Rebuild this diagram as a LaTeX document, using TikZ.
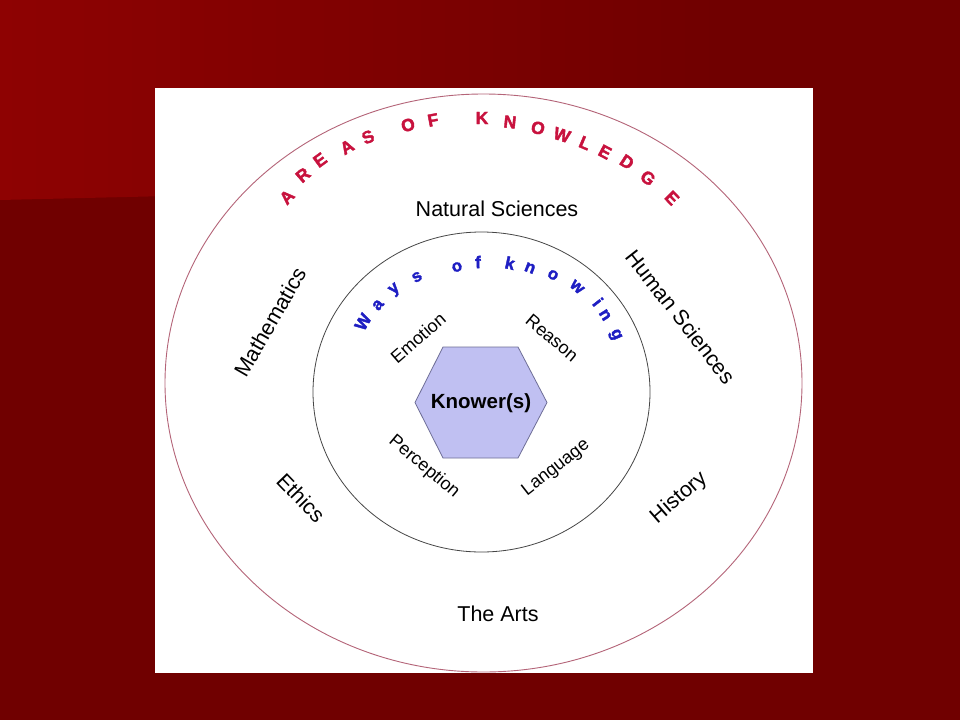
\documentclass[tikz,border=0pt]{standalone}
\usepackage{fontspec}
\setmainfont{Liberation Sans}
\newfontfamily\heavyfont[BoldFeatures={FakeBold=2.2}]{Liberation Sans}
\definecolor{bgdark}{RGB}{112,0,0}
\definecolor{bglight}{RGB}{142,2,2}
\definecolor{bgmid}{RGB}{132,0,0}
\definecolor{aokred}{RGB}{200,18,62}
\definecolor{wokblue}{RGB}{30,30,195}
\definecolor{outerline}{RGB}{180,100,120}
\definecolor{innerline}{RGB}{70,70,70}
\definecolor{hexfill}{RGB}{192,192,242}
\definecolor{hexline}{RGB}{110,110,150}
\tikzset{
  aokletter/.style={text=aokred, inner sep=0pt, font=\heavyfont\bfseries\fontsize{17.5}{17.5}\selectfont},
  wokletter/.style={text=wokblue, inner sep=0pt, font=\heavyfont\bfseries\fontsize{17}{17}\selectfont},
  arealabel/.style={inner sep=0pt, font=\fontsize{21.5}{22}\selectfont},
  waylabel/.style={inner sep=0pt, font=\fontsize{18}{18}\selectfont},
  knowerlabel/.style={inner sep=0pt, font=\bfseries\fontsize{20.5}{20.5}\selectfont},
}
\begin{document}
\begin{tikzpicture}[x=1pt,y=-1pt]
\useasboundingbox (0,0) rectangle (960,720);
% background
\fill[bgdark] (0,0) rectangle (960,720);
\shade[left color=bglight, middle color=bgmid, right color=bgdark] (0,0) -- (720,0) -- (720,183) -- (0,200) -- cycle;
% white panel
\fill[white] (155,88) rectangle (813,673);
% ellipses
\draw[outerline, line width=0.9pt] (483.5,383) ellipse [x radius=318.5, y radius=289];
\draw[innerline, line width=0.8pt] (481.5,392) ellipse [x radius=168.5, y radius=160];
% hexagon
\coordinate (h1) at (443,347);
\coordinate (h2) at (518,347);
\coordinate (h3) at (547,402.5);
\coordinate (h4) at (518,458);
\coordinate (h5) at (443,458);
\coordinate (h6) at (415,402.5);
\filldraw[fill=hexfill, draw=hexline, line width=0.8pt] (h1) -- (h2) -- (h3) -- (h4) -- (h5) -- (h6) -- cycle;
\node[knowerlabel] (knower) at (481,403) {Knower(s)};
% areas of knowledge
\node[arealabel] (natsci) at (497,209) {Natural Sciences};
\node[arealabel, rotate=60] (math) at (270,322) {Mathematics};
\node[arealabel, rotate=-52] (humsci) at (681,317) {Human Sciences};
\node[arealabel, rotate=-46] (ethics) at (301,498) {Ethics};
\node[arealabel, rotate=41] (history) at (679,498) {History};
\node[arealabel] (arts) at (498,614) {The Arts};
% ways of knowing
\node[waylabel, rotate=41] (emotion) at (418,338) {Emotion};
\node[waylabel, rotate=-40] (reason) at (552,338) {Reason};
\node[waylabel, rotate=-40] (perception) at (424,467) {Perception};
\node[waylabel, rotate=38] (language) at (556,468) {Language};
% curved title: AREAS OF KNOWLEDGE
\foreach \px/\py/\rr/\ch [count=\i] in {
  287/197/46.5/A, 303/175/40.9/R, 320/160/36.2/E, 347/147/30/A, 368/137/25.1/S,
  408/125/16.2/O, 433/120/10.8/F,
  482/118/0.2/K, 510/122/-5.9/N, 538/128/-12.2/O, 562/135/-17.7/W, 585/143/-23/L,
  605/152/-27.8/E, 627/162/-33.1/D, 648/178/-38.8/G, 672/198/-45.6/E}
  \node[aokletter, rotate=\rr] (aok\i) at (\px,\py) {\ch};
% curved title: Ways of knowing
\foreach \px/\py/\rr/\ch [count=\i] in {
  363/322/59.5/W, 378/305/50.1/a, 395/290/40.5/y, 417/277/29.5/s,
  457/267/11.3/o, 478/262/1.8/f,
  510/263/-12.2/k, 530/268/-21.2/n, 553/275/-31.3/o, 577/287/-42.1/w,
  598/302/-52.2/i, 605/315/-58/n, 615/335/-66.8/g}
  \node[wokletter, rotate=\rr] (wok\i) at (\px,\py) {\ch};
\end{tikzpicture}
\end{document}
